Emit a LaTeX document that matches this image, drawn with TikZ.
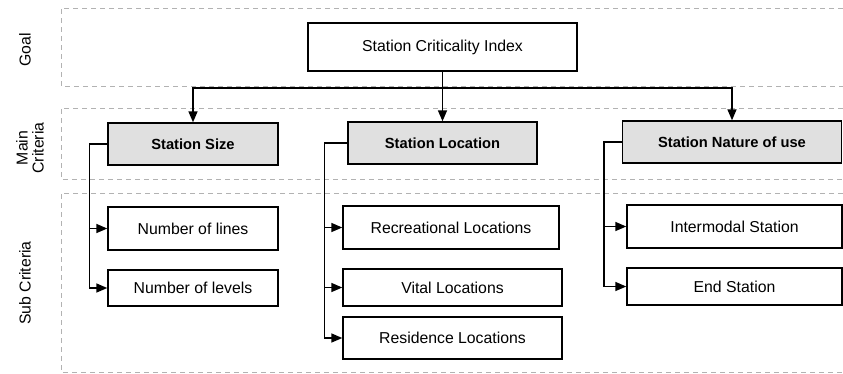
\documentclass[tikz,border=0pt]{standalone}
\usepackage{fontspec}
\setmainfont{Liberation Sans}
\usetikzlibrary{arrows.meta}
\usetikzlibrary{positioning}

\tikzset{
  band/.style={draw=black!30,dashed,dash pattern=on 5pt off 4pt,line width=0.8pt},
  goalbox/.style={draw,line width=1.4pt,minimum width=269pt,minimum height=48pt,inner sep=0pt},
  critbox/.style={draw,fill=black!12,line width=1.4pt,minimum height=42pt,inner sep=0pt,font=\bfseries\fontsize{14.7}{17}\selectfont},
  subbox/.style={draw,line width=1.4pt,inner sep=0pt},
  arr/.style={line width=1.5pt,-{Triangle[length=11pt,width=9pt]}},
  lvl/.style={rotate=90,align=center}
}

\begin{document}
\begin{tikzpicture}[x=1pt,y=-1pt,font=\fontsize{15.8}{17}\selectfont]
\useasboundingbox (0,0) rectangle (843,373);
% dashed bands
\draw[band] (843,8) -- (61,8) -- (61,86) -- (843,86);
\draw[band] (843,108) -- (61,108) -- (61,179) -- (843,179);
\draw[band] (843,193) -- (61,193) -- (61,372) -- (843,372);
\node[lvl] (goallbl) at (25,50) {Goal};
\node[lvl,font=\fontsize{15.8}{16}\selectfont] (mainlbl) at (30,148) {Main\\Criteria};
\node[lvl] (sublbl) at (25,283) {Sub Criteria};

% goal
\node[goalbox] (goal) at (442.5,47) {Station Criticality Index};

% main criteria
\node[critbox,minimum width=170pt] (size) at (193,144) {Station Size};
\node[critbox,minimum width=189pt] (location) at (442.5,143) {Station Location};
\node[critbox,minimum width=219pt] (nature) at (732,142) {Station Nature of use};

% sub criteria
\node[subbox,minimum width=170pt,minimum height=43pt] (lines) at (193,228.5) {Number of lines};
\node[subbox,minimum width=170pt,minimum height=36pt] (levels) at (193,288) {Number of levels};
\node[subbox,minimum width=216pt,minimum height=43pt] (recre) at (451,227.5) {Recreational Locations};
\node[subbox,minimum width=219pt,minimum height=37pt] (vital) at (452.5,287.5) {Vital Locations};
\node[subbox,minimum width=219pt,minimum height=42pt] (resid) at (452.5,338) {Residence Locations};
\node[subbox,minimum width=215pt,minimum height=43pt] (intermodal) at (734.5,226.5) {Intermodal Station};
\node[subbox,minimum width=215pt,minimum height=37pt] (endst) at (734.5,286.5) {End Station};

% goal to main criteria
\coordinate (split) at (442.5,88);
\draw[arr] (goal.south) -- (location.north);
\draw[arr] (split) -| (size.north);
\draw[arr] (split) -| (nature.north);

% main criteria to sub criteria
\draw[arr] (size.west) -- ++(-18,0) |- (lines.west);
\draw[arr] (size.west) -- ++(-18,0) |- (levels.west);
\draw[arr] (location.west) -- ++(-23,0) |- (recre.west);
\draw[arr] (location.west) -- ++(-23,0) |- (vital.west);
\draw[arr] (location.west) -- ++(-23,0) |- (resid.west);
\draw[arr] (nature.west) -- ++(-18,0) |- (intermodal.west);
\draw[arr] (nature.west) -- ++(-18,0) |- (endst.west);
\end{tikzpicture}
\end{document}
